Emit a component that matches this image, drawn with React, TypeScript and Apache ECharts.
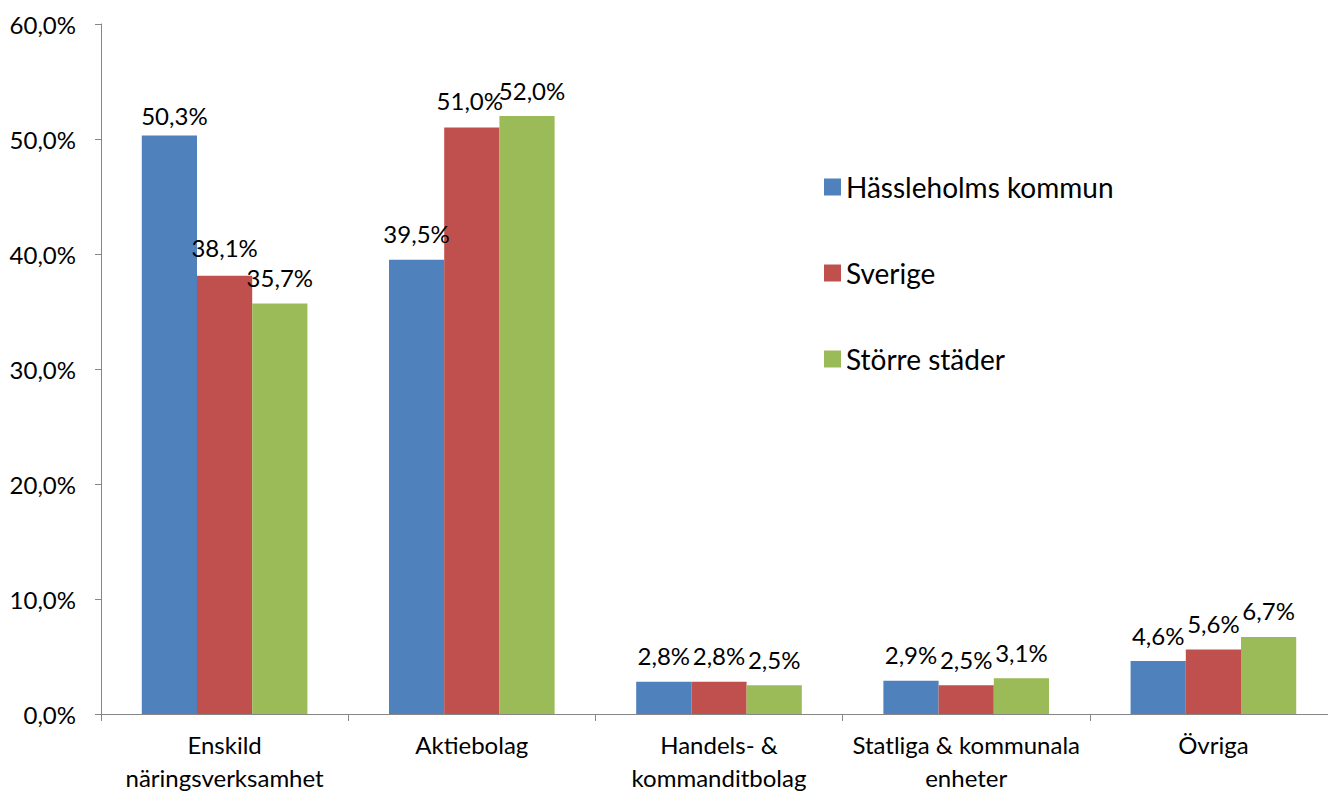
import React, { useEffect, useRef } from "react";
import * as echarts from "echarts";

const categories = [
  "Enskild\nnäringsverksamhet",
  "Aktiebolag",
  "Handels- &\nkommanditbolag",
  "Statliga & kommunala\nenheter",
  "Övriga",
];
const seriesNames = ["Hässleholms kommun", "Sverige", "Större städer"];
const hassleholm = [50.3, 39.5, 2.8, 2.9, 4.6];
const sverige = [38.1, 51.0, 2.8, 2.5, 5.6];
const storreStader = [35.7, 52.0, 2.5, 3.1, 6.7];
const colors = ["#4F81BD", "#C0504D", "#9BBB59"];

// label nudges (style only) keyed by "seriesIndex-dataIndex"
const labelNudge: Record<string, [number, number]> = {
  "0-0": [5, 6],
  "1-0": [0, -2],
  "1-1": [-2, -1],
  "2-1": [5, 0],
};

const FONT = "Lato";
const fmt = (v: number) => v.toFixed(1).replace(".", ",") + "%";

export default function App() {
  const ref = useRef<HTMLDivElement>(null);
  useEffect(() => {
    if (!ref.current) return;
    const chart = echarts.init(ref.current, undefined, { renderer: "svg" });
    const data = [hassleholm, sverige, storreStader];
    chart.setOption({
      animation: false,
      textStyle: { fontFamily: FONT },
      grid: { left: 101, top: 24, height: 690, width: 1236, containLabel: false },
      legend: {
        orient: "vertical",
        left: 824,
        top: 173,
        padding: 0,
        itemWidth: 17,
        itemHeight: 17,
        itemGap: 58,
        itemTextGap: 7,
        icon: "rect",
        textStyle: { fontFamily: FONT, fontSize: 28, color: "#000", lineHeight: 28 },
        data: seriesNames,
      },
      xAxis: {
        type: "category",
        data: categories,
        axisLine: { show: true, lineStyle: { color: "#868686", width: 1 } },
        axisTick: { show: true, length: 7, interval: 0, lineStyle: { color: "#868686" } },
        axisLabel: {
          interval: 0,
          margin: 14,
          color: "#000",
          fontFamily: FONT,
          fontSize: 24,
          lineHeight: 33,
        },
      },
      yAxis: {
        type: "value",
        min: 0,
        max: 60,
        interval: 10,
        splitLine: { show: false },
        axisLine: { show: true, lineStyle: { color: "#868686", width: 1 } },
        axisTick: { show: true, length: 6, lineStyle: { color: "#868686" } },
        axisLabel: {
          formatter: (v: number) => fmt(v),
          color: "#000",
          fontFamily: FONT,
          fontSize: 24,
          margin: 25,
        },
      },
      series: seriesNames.map((name, i) => ({
        name,
        type: "bar",
        data: data[i].map((v, j) => {
          const nudge = labelNudge[`${i}-${j}`];
          return nudge ? { value: v, label: { offset: nudge } } : v;
        }),
        barGap: "0%",
        barCategoryGap: "33%",
        itemStyle: { color: colors[i] },
        label: {
          show: true,
          position: "top",
          distance: 14,
          formatter: (p: any) => fmt(p.value),
          color: "#000",
          fontFamily: FONT,
          fontSize: 24,
        },
      })),
    });
    return () => chart.dispose();
  }, []);
  return (
    <div style={{ position: "fixed", left: 0, top: 0, width: 1328, height: 794, overflow: "hidden", background: "#fff" }}>
      <div ref={ref} style={{ width: 1340, height: 794 }} />
    </div>
  );
}
